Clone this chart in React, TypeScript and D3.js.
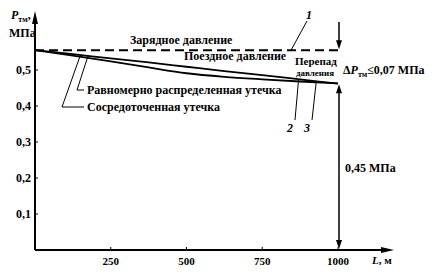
import React from "react";
import * as d3 from "d3";

const distances = [0, 125, 250, 375, 500, 625, 750, 875, 1000];
const trainPressure = [0.555, 0.544, 0.532, 0.521, 0.509, 0.497, 0.486, 0.474, 0.462];
const leakPressure = [0.555, 0.540, 0.524, 0.507, 0.491, 0.481, 0.474, 0.468, 0.463];
const chargePressure = 0.555;
const xTicks = [250, 500, 750, 1000];
const yTicks = [0.1, 0.2, 0.3, 0.4, 0.5];
const yTickLabels = ["0,1", "0,2", "0,3", "0,4", "0,5"];

const W = 434;
const H = 276;
const FF = "Liberation Serif";

export default function App() {
  const x = d3.scaleLinear().domain([0, 1000]).range([35, 338]);
  const y = d3.scaleLinear().domain([0, 0.5]).range([250, 70]);

  const line = d3
    .line<number>()
    .x((_, i) => x(distances[i]))
    .y((d) => y(d))
    .curve(d3.curveMonotoneX);

  const x0 = x(0);
  const y0 = y(0);
  const xEnd = x(1000);
  const yCharge = y(chargePressure);
  const yEndLow = y(leakPressure[leakPressure.length - 1]);

  const interp = (arr: number[], L: number) => {
    const f = d3.scaleLinear().domain(distances).range(arr);
    return f(L);
  };

  const arrowDown = (cx: number, tip: number) =>
    `${cx - 3},${tip - 9} ${cx + 3},${tip - 9} ${cx},${tip}`;
  const arrowUp = (cx: number, tip: number) =>
    `${cx - 3},${tip + 9} ${cx + 3},${tip + 9} ${cx},${tip}`;

  return (
    <svg width={W} height={H} fontFamily={FF} style={{ position: "fixed", left: 0, top: 0, background: "#fff" }}>
      <rect x={0} y={0} width={W} height={H} fill="#fff" />
      <line x1={x0} y1={y0} x2={x0} y2={20} stroke="#000" strokeWidth={2} />
      <polygon points={`${x0 - 3},${24} ${x0 + 3},${24} ${x0},${11}`} fill="#000" />
      <line x1={x0} y1={y0} x2={385} y2={y0} stroke="#000" strokeWidth={2} />
      <polygon points={`381,${y0 - 3} 381,${y0 + 3} 394,${y0}`} fill="#000" />

      {yTicks.map((t, i) => (
        <g key={t}>
          <line x1={x0} x2={x0 + 3} y1={y(t)} y2={y(t)} stroke="#000" strokeWidth={1} />
          <text x={x0 - 4} y={y(t) + 4} textAnchor="end" fontSize={12} fontWeight="bold">
            {yTickLabels[i]}
          </text>
        </g>
      ))}
      {xTicks.map((t) => (
        <g key={t}>
          <line x1={x(t)} x2={x(t)} y1={y0} y2={y0 - 3} stroke="#000" strokeWidth={1} />
          <text x={x(t)} y={y0 + 15} textAnchor="middle" fontSize={11} fontWeight="bold">
            {t}
          </text>
        </g>
      ))}

      <text x={11} y={19} fontSize={12} fontWeight="bold">
        <tspan fontStyle="italic">P</tspan>
        <tspan fontSize={8} dy={3}>тм</tspan>
        <tspan dy={-3}>,</tspan>
      </text>
      <text x={9} y={37} fontSize={12} fontWeight="bold">МПа</text>
      <text x={372} y={264} fontSize={11} fontWeight="bold">
        <tspan fontStyle="italic">L</tspan>, м
      </text>

      <line x1={x0} x2={xEnd} y1={yCharge} y2={yCharge} stroke="#000" strokeWidth={2} strokeDasharray="9,5" />

      <path d={line(trainPressure) || ""} fill="none" stroke="#000" strokeWidth={1.8} />
      <path d={line(leakPressure) || ""} fill="none" stroke="#000" strokeWidth={1.8} />

      <line x1={xEnd + 1} x2={xEnd + 1} y1={22} y2={yCharge - 6} stroke="#000" strokeWidth={1.5} />
      <polygon points={arrowDown(xEnd + 1, yCharge - 1)} fill="#000" />
      <line x1={xEnd + 1} x2={xEnd + 1} y1={yEndLow + 6} y2={y0 - 6} stroke="#000" strokeWidth={1.5} />
      <polygon points={arrowUp(xEnd + 1, yEndLow + 1)} fill="#000" />
      <polygon points={arrowDown(xEnd + 1, y0 - 1)} fill="#000" />

      <text x={130} y={44} fontSize={12} fontWeight="bold">Зарядное давление</text>
      <text x={184} y={60} fontSize={12} fontWeight="bold">Поездное давление</text>
      <text x={295} y={65} fontSize={11} fontWeight="bold">Перепад</text>
      <text x={296} y={76} fontSize={9} fontWeight="bold">давления</text>
      <text x={343} y={74} fontSize={12} fontWeight="bold">
        Δ<tspan fontStyle="italic">P</tspan>
        <tspan fontSize={8} dy={3}>тм</tspan>
        <tspan dy={-3}>≤0,07 МПа</tspan>
      </text>
      <text x={345} y={172} fontSize={12} fontWeight="bold">0,45 МПа</text>
      <text x={87} y={94} fontSize={12} fontWeight="bold">Равномерно распределенная утечка</text>
      <text x={87} y={111} fontSize={12} fontWeight="bold">Сосредоточенная утечка</text>

      <polyline
        points={`84,90 77,90 ${x(175)},${y(interp(trainPressure, 175))}`}
        fill="none"
        stroke="#000"
        strokeWidth={1}
      />
      <polyline
        points={`84,107 62,107 ${x(148)},${y(interp(leakPressure, 148))}`}
        fill="none"
        stroke="#000"
        strokeWidth={1}
      />
      <line x1={307} y1={21} x2={x(845)} y2={yCharge} stroke="#000" strokeWidth={1} />
      <text x={306} y={19} fontSize={12} fontWeight="bold" fontStyle="italic">1</text>
      <line x1={295} y1={120} x2={x(870)} y2={y(interp(trainPressure, 870))} stroke="#000" strokeWidth={1} />
      <text x={287} y={132} fontSize={12} fontWeight="bold" fontStyle="italic">2</text>
      <line x1={312} y1={120} x2={x(928)} y2={y(interp(leakPressure, 928))} stroke="#000" strokeWidth={1} />
      <text x={304} y={132} fontSize={12} fontWeight="bold" fontStyle="italic">3</text>
    </svg>
  );
}
